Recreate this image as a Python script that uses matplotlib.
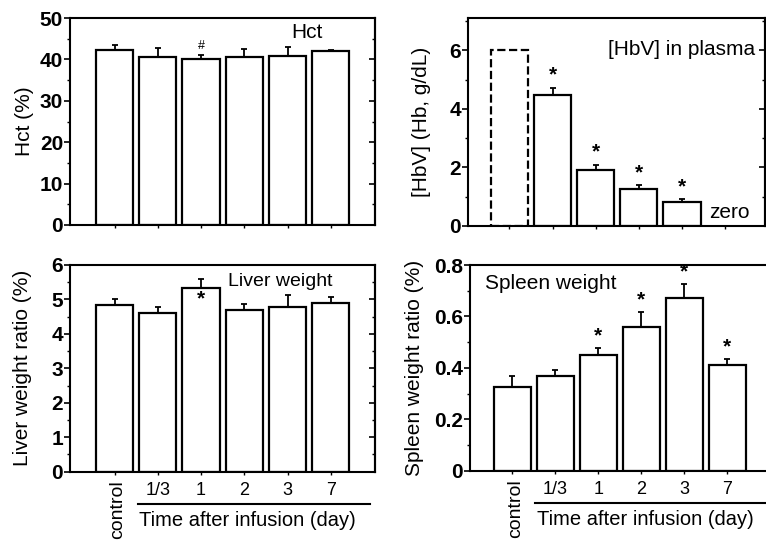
import matplotlib
matplotlib.use("Agg")
import matplotlib.pyplot as plt
from matplotlib.ticker import MultipleLocator, FuncFormatter

plt.rcParams['font.family'] = ['Liberation Sans', 'DejaVu Sans']

# Data
groups = ["control", "1/3", "1", "2", "3", "7"]

hct = [42.3, 40.7, 40.0, 40.7, 40.8, 42.0]
hct_err = [1.2, 2.0, 1.1, 1.7, 2.3, 0.3]

hbv = [6.0, 4.47, 1.91, 1.26, 0.82, 0.0]
hbv_err = [0.0, 0.26, 0.19, 0.14, 0.09, 0.0]

liver = [4.85, 4.62, 5.33, 4.68, 4.77, 4.90]
liver_err = [0.16, 0.15, 0.26, 0.19, 0.35, 0.17]

spleen = [0.327, 0.368, 0.450, 0.560, 0.671, 0.410]
spleen_err = [0.041, 0.024, 0.029, 0.059, 0.054, 0.023]

fig = plt.figure(figsize=(7.66, 5.44), dpi=100)

ax1 = fig.add_axes([0.0914, 0.5864, 0.398, 0.3805])
ax2 = fig.add_axes([0.611, 0.5846, 0.388, 0.382])
ax3 = fig.add_axes([0.0914, 0.1329, 0.398, 0.380])
ax4 = fig.add_axes([0.6136, 0.1347, 0.3916, 0.378])

x = list(range(len(groups)))
W = 0.86
TICK_FS = 15
LABEL_FS = 15
INNER_FS = 15


def draw_bars(ax, vals, errs, dashed_first=False):
    for i, (v, e) in enumerate(zip(vals, errs)):
        if v <= 0:
            continue
        ls = '--' if (dashed_first and i == 0) else '-'
        ax.bar(x[i], v, width=W, color='white', edgecolor='black',
               linewidth=1.6, linestyle=ls, zorder=2)
        if e > 0:
            ax.errorbar(x[i], v, yerr=[[0], [e]], fmt='none', ecolor='black',
                        elinewidth=1.3, capsize=2.5, capthick=1.3, zorder=3)


def style_axis(ax, ylim, major, minor, xlim, right_ticks=True):
    ax.set_xlim(*xlim)
    ax.set_ylim(*ylim)
    for s in ax.spines.values():
        s.set_linewidth(1.5)
    ax.yaxis.set_major_locator(MultipleLocator(major))
    ax.yaxis.set_minor_locator(MultipleLocator(minor))
    ax.tick_params(axis='y', which='major', direction='out', length=4, width=1.2,
                   labelsize=TICK_FS, pad=1)
    ax.tick_params(axis='y', which='minor', direction='out', length=2, width=1)
    ax.tick_params(axis='x', direction='out', length=2.5, width=1)
    for lab in ax.get_yticklabels():
        lab.set_fontweight('bold')
    ax.set_xticks(x)
    if right_ticks:
        # inward ticks on the right spine
        sec = ax.secondary_yaxis('right')
        sec.yaxis.set_major_locator(MultipleLocator(major))
        sec.yaxis.set_minor_locator(MultipleLocator(minor))
        sec.tick_params(which='major', direction='in', length=4, width=1.2,
                        labelright=False)
        sec.tick_params(which='minor', direction='in', length=2, width=1)
        sec.spines['right'].set_linewidth(1.5)


# Hct
draw_bars(ax1, hct, hct_err)
style_axis(ax1, (0, 50), 10, 5, (-1.03, 6.02))
ax1.set_xticklabels([])
ax1.set_ylabel("Hct (%)", fontsize=LABEL_FS, labelpad=4)
ax1.text(0.777, 0.928, "Hct", transform=ax1.transAxes, fontsize=INNER_FS,
         ha='center', va='center')
ax1.text(x[2], hct[2] + hct_err[2] + 0.6, "#", ha='center', va='bottom',
         fontsize=9)

# HbV in plasma
draw_bars(ax2, hbv, hbv_err, dashed_first=True)
style_axis(ax2, (0, 7.1), 2, 1, (-0.96, 5.93))
ax2.set_xticklabels([])
ax2.set_ylabel("[HbV] (Hb, g/dL)", fontsize=LABEL_FS, labelpad=13)
ax2.text(0.966, 0.851, "[HbV] in plasma", transform=ax2.transAxes,
         fontsize=INNER_FS, ha='right', va='center')
ax2.text(0.81, 0.0625, "zero", transform=ax2.transAxes, fontsize=INNER_FS,
         ha='left', va='center')
for i in range(1, 5):
    ax2.text(x[i], hbv[i] + hbv_err[i] + 0.1, "*", ha='center', va='bottom',
             fontsize=15, fontweight='bold')

# Liver weight
draw_bars(ax3, liver, liver_err)
style_axis(ax3, (0, 6), 1, 0.5, (-1.03, 6.02))
ax3.set_ylabel("Liver weight ratio (%)", fontsize=LABEL_FS, labelpad=14)
ax3.text(0.69, 0.918, "Liver weight", transform=ax3.transAxes,
         fontsize=INNER_FS - 1, ha='center', va='center')
ax3.text(x[2], liver[2] - 0.05, "*", ha='center', va='top',
         fontsize=15, fontweight='bold')

# Spleen weight
draw_bars(ax4, spleen, spleen_err)
style_axis(ax4, (0, 0.8), 0.2, 0.1, (-0.98, 5.99), right_ticks=False)
ax4.yaxis.set_major_formatter(FuncFormatter(lambda v, p: "0" if v == 0 else f"{v:.1f}"))
ax4.set_ylabel("Spleen weight ratio (%)", fontsize=LABEL_FS, labelpad=7)
ax4.text(0.05, 0.912, "Spleen weight", transform=ax4.transAxes,
         fontsize=INNER_FS, ha='left', va='center')
for i in range(2, 6):
    ax4.text(x[i], spleen[i] + spleen_err[i] + 0.01, "*", ha='center',
             va='bottom', fontsize=15, fontweight='bold')

# bottom x-axis labels
for ax, line_x, text_x in [(ax3, (0.54, 5.9), 3.07), (ax4, (0.53, 6.2), 3.09)]:
    ax.set_xticklabels([""] + groups[1:], fontsize=13)
    ax.tick_params(axis='x', pad=5)
    trans = ax.get_xaxis_transform()
    ax.text(0.08, -0.04, groups[0], transform=trans, rotation=90,
            ha='center', va='top', fontsize=14)
    ax.plot(line_x, [-0.158, -0.158], transform=trans, color='black',
            linewidth=1.5, clip_on=False)
    ax.text(text_x, -0.236, "Time after infusion (day)", transform=trans,
            ha='center', va='center', fontsize=14.5)

fig.savefig("out.png", dpi=100)
